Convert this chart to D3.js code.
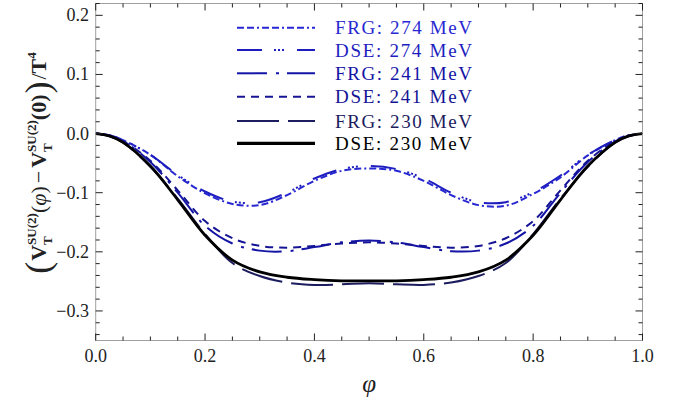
<!DOCTYPE html>
<html><head><meta charset="utf-8">
<script src="https://cdn.jsdelivr.net/npm/d3@7"></script>
<style>body{margin:0;background:#fff} svg{display:block}</style>
</head><body>
<svg id="c" width="680" height="402"></svg>
<script>
// ---- data ----
const phi    = [0,0.025,0.05,0.1,0.15,0.2,0.25,0.3,0.35,0.4,0.45,0.5,0.55,0.6,0.65,0.7,0.75,0.8,0.85,0.9,0.95,0.975,1];
const frg274 = [0,-0.003,-0.011,-0.036,-0.072,-0.101,-0.119,-0.121,-0.104,-0.080,-0.063,-0.059,-0.063,-0.080,-0.104,-0.121,-0.122,-0.102,-0.074,-0.037,-0.011,-0.003,0];
const dse274 = [0,-0.003,-0.011,-0.036,-0.070,-0.098,-0.115,-0.116,-0.100,-0.076,-0.060,-0.055,-0.060,-0.076,-0.100,-0.116,-0.116,-0.099,-0.071,-0.036,-0.011,-0.003,0];
const frg241 = [0,-0.004,-0.013,-0.048,-0.100,-0.156,-0.186,-0.198,-0.199,-0.192,-0.184,-0.181,-0.184,-0.192,-0.199,-0.198,-0.186,-0.156,-0.100,-0.048,-0.013,-0.004,0];
const dse241 = [0,-0.004,-0.013,-0.046,-0.096,-0.148,-0.177,-0.190,-0.193,-0.190,-0.186,-0.184,-0.186,-0.190,-0.193,-0.190,-0.177,-0.148,-0.096,-0.046,-0.013,-0.004,0];
const frg230 = [0,-0.004,-0.015,-0.056,-0.110,-0.170,-0.219,-0.241,-0.252,-0.256,-0.255,-0.253,-0.255,-0.256,-0.252,-0.241,-0.219,-0.170,-0.110,-0.056,-0.015,-0.004,0];
const dse230 = [0,-0.004,-0.015,-0.055,-0.112,-0.172,-0.214,-0.234,-0.243,-0.247,-0.249,-0.249,-0.249,-0.247,-0.243,-0.234,-0.214,-0.172,-0.112,-0.055,-0.015,-0.004,0];
const seriesNames = ["FRG: 274 MeV","DSE: 274 MeV","FRG: 241 MeV","DSE: 241 MeV","FRG: 230 MeV","DSE: 230 MeV"];
const xTicks = [0,0.2,0.4,0.6,0.8,1.0];
const yTicks = [-0.3,-0.2,-0.1,0.0,0.1,0.2];

// ---- styles ----
const styles = [
  {color:"#2828d2", dash:"7,3,7,3,2,3", w:2},
  {color:"#1e1ec0", dash:"25,12,2,2,2,2,2,13", w:2},
  {color:"#1414a6", dash:"30,9,3,8", w:2},
  {color:"#141494", dash:"8,6", w:2},
  {color:"#1c1c5e", dash:"42,9", w:2},
  {color:"#000000", dash:null, w:2.8}
];
const data = [frg274,dse274,frg241,dse241,frg230,dse230];

const svg = d3.select("#c");
const L=95.7, R=642.5, T=3.5, B=340.5;
const x = d3.scaleLinear().domain([0,1]).range([L,R]);
const y = d3.scaleLinear().domain([-0.35,0.22]).range([B,T]);
const font = "'Liberation Serif','Times New Roman',serif";
const frameCol = "#a0a0a0", tickCol="#222";

svg.append("clipPath").attr("id","clp").append("rect").attr("x",L).attr("y",T).attr("width",R-L).attr("height",B-T);

const line = d3.line().x((d,i)=>x(phi[i])).y(d=>y(d)).curve(d3.curveCatmullRom.alpha(0.5));
const g = svg.append("g").attr("clip-path","url(#clp)");
data.forEach((s,k)=>{
  g.append("path").attr("d",line(s)).attr("fill","none")
   .attr("stroke",styles[k].color).attr("stroke-width",styles[k].w)
   .attr("stroke-dasharray",styles[k].dash).attr("stroke-linecap","butt");
});

svg.append("rect").attr("x",L).attr("y",T).attr("width",R-L).attr("height",B-T)
  .attr("fill","none").attr("stroke",frameCol).attr("stroke-width",1);

const xMinor = d3.range(0,1.0001,0.05);
const yMinor = d3.range(-0.34,0.2201,0.02);
const tk = svg.append("g").attr("stroke",tickCol).attr("stroke-width",1);
xMinor.forEach(v=>{
  const major = Math.abs(v*5-Math.round(v*5))<1e-6;
  const len = major?7:4;
  tk.append("line").attr("x1",x(v)).attr("x2",x(v)).attr("y1",B).attr("y2",B-len);
  tk.append("line").attr("x1",x(v)).attr("x2",x(v)).attr("y1",T).attr("y2",T+len);
});
yMinor.forEach(v=>{
  const major = Math.abs(v*10-Math.round(v*10))<1e-6;
  const len = major?7:4;
  tk.append("line").attr("y1",y(v)).attr("y2",y(v)).attr("x1",L).attr("x2",L+len);
  tk.append("line").attr("y1",y(v)).attr("y2",y(v)).attr("x1",R).attr("x2",R-len);
});

svg.append("g").selectAll("text").data(xTicks).join("text")
  .attr("x",d=>x(d)).attr("y",362).attr("text-anchor","middle")
  .attr("font-family",font).attr("font-size",18).attr("fill","#222")
  .text(d=>d.toFixed(1));
svg.append("g").selectAll("text").data(yTicks).join("text")
  .attr("x",89).attr("y",d=>y(d)+6).attr("text-anchor","end")
  .attr("font-family",font).attr("font-size",18).attr("fill","#222")
  .text(d=>(d<0?"\u2212":"")+Math.abs(d).toFixed(1));

svg.append("text").attr("x",(L+R)/2).attr("y",392).attr("text-anchor","middle")
  .attr("font-family",font).attr("font-style","italic").attr("font-size",25).attr("fill","#222").text("\u03c6");

// y label
const yl = svg.append("g");
const inner = yl.append("g");
let cx = 0;
function piece(t,opt){
  return inner.append("text").attr("x",cx).attr("y",opt.dy||0)
    .attr("font-family",font).attr("font-size",opt.size||22)
    .attr("font-weight",opt.bold?"bold":"normal").attr("font-style",opt.italic?"italic":"normal")
    .attr("fill","#222").text(t);
}
function adv(t,opt){ const el=piece(t,opt); cx += el.node().getComputedTextLength(); }
function stack(sup,sub){
  const a=piece(sup,{size:13,bold:true,dy:-10}); const b=piece(sub,{size:13,bold:true,dy:6});
  cx += Math.max(a.node().getComputedTextLength(), b.node().getComputedTextLength());
}
adv("(",{size:36,dy:4}); cx+=1;
adv("V",{bold:true}); stack("SU(2)","T");
adv("(",{}); adv("\u03c6",{italic:true}); adv(")",{});
cx+=3; adv("\u2212",{}); cx+=3;
adv("V",{bold:true}); stack("SU(2)","T");
adv("(0)",{bold:true}); cx+=1;
adv(")",{size:36,dy:4}); cx+=2;
adv("/",{}); adv("T",{bold:true});
adv("4",{size:13,bold:true,dy:-10});
inner.attr("transform",`translate(${-cx/2},0)`);
yl.attr("transform",`translate(46,163) rotate(-90)`);

// legend
const legY = [27.7,50,73.3,96.7,121,143.3];
const lg = svg.append("g");
seriesNames.forEach((n,k)=>{
  lg.append("line").attr("x1",237).attr("x2",315).attr("y1",legY[k]).attr("y2",legY[k])
    .attr("stroke",styles[k].color).attr("stroke-width",styles[k].w+ (k==5?0.4:0))
    .attr("stroke-dasharray",styles[k].dash);
  lg.append("text").attr("x",335).attr("y",legY[k]+6.5)
    .attr("font-family",font).attr("font-size",19).attr("fill",styles[k].color)
    .attr("textLength",137).attr("lengthAdjust","spacing").text(n);
});
</script>
</body></html>
